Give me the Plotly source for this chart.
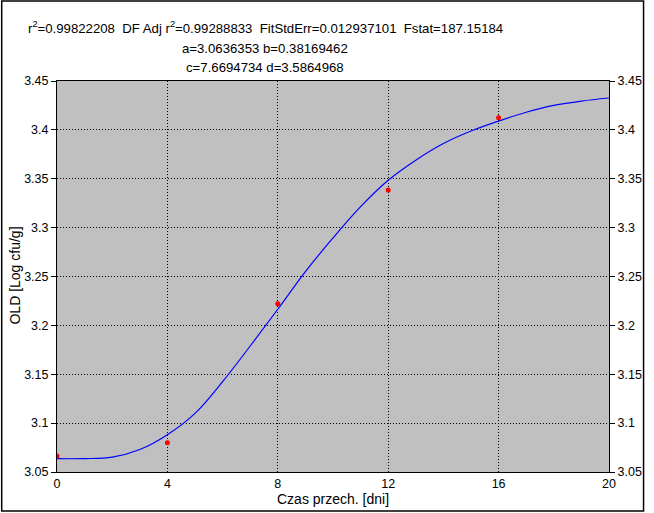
import plotly.graph_objects as go

# measured data points
x_data = [0, 4, 8, 12, 16]
y_data = [3.0664, 3.0800, 3.2222, 3.3385, 3.4125]

# fitted curve
x_fit = [0, 1, 2, 3, 4, 5, 6, 7, 8, 9, 10, 11, 12, 13, 14, 15, 16, 17, 18, 19, 20]
y_fit = [3.0636, 3.0637, 3.0652, 3.0730, 3.0882, 3.1100, 3.1424, 3.1789, 3.2165,
         3.2550, 3.2895, 3.3215, 3.3485, 3.3690, 3.3860, 3.3988, 3.4090, 3.4180,
         3.4250, 3.4295, 3.4326]

x_ticks = [0, 4, 8, 12, 16, 20]
y_ticks = [3.05, 3.1, 3.15, 3.2, 3.25, 3.3, 3.35, 3.4, 3.45]
y_ticktext = ["3.05", "3.1", "3.15", "3.2", "3.25", "3.3", "3.35", "3.4", "3.45"]

title_lines = [
    "r<sup>2</sup>=0.99822208  DF Adj r<sup>2</sup>=0.99288833  FitStdErr=0.012937101  Fstat=187.15184",
    "a=3.0636353 b=0.38169462",
    "c=7.6694734 d=3.5864968",
]
x_title = "Czas przech. [dni]"
y_title = "OLD [Log cfu/g]"

FONT = "Liberation Sans, Arial, sans-serif"
W, H = 654, 513
L, R, T, B = 57, 616, 81, 472

def px_x(p):
    return (p - L) / (R - L)

def px_y(p):
    return (B - p) / (B - T)

fig = go.Figure()
fig.add_trace(go.Scatter(x=x_fit, y=y_fit, mode="lines",
                         line=dict(color="#0000FF", width=1.2, shape="spline", smoothing=1.0),
                         hoverinfo="skip", showlegend=False))
fig.add_trace(go.Scatter(x=x_data, y=y_data, mode="markers",
                         marker=dict(color="#FF0000", size=5, symbol="circle"),
                         showlegend=False))
# invisible trace to activate right axis
fig.add_trace(go.Scatter(x=[x_ticks[0]], y=[y_ticks[0]], yaxis="y2", mode="markers",
                         marker=dict(opacity=0), hoverinfo="skip", showlegend=False))

axis_common = dict(showline=True, linecolor="black", linewidth=1, zeroline=False,
                   tickfont=dict(family=FONT, size=12.5, color="black"))

fig.update_layout(
    width=W, height=H,
    margin=dict(l=L, r=W - R, t=T, b=H - B, pad=0),
    paper_bgcolor="white",
    plot_bgcolor="#C0C0C0",
    font=dict(family=FONT, color="black"),
    showlegend=False,
    xaxis=dict(range=[0, 20], tickvals=x_ticks, ticks="", mirror=True,
               showgrid=True, gridcolor="black", gridwidth=1, griddash="1px,2px",
               **axis_common),
    yaxis=dict(range=[3.05, 3.45], tickvals=y_ticks, ticktext=y_ticktext,
               ticks="outside", ticklen=5, tickcolor="black", mirror=True,
               showgrid=True, gridcolor="black", gridwidth=1, griddash="1px,2px",
               **axis_common),
    yaxis2=dict(range=[3.05, 3.45], tickvals=y_ticks, ticktext=y_ticktext,
                overlaying="y", side="right", ticks="outside", ticklen=5,
                tickcolor="black", showgrid=False, **axis_common),
)

# title lines
ys = [27, 48, 67]
for txt, yp in zip(title_lines, ys):
    fig.add_annotation(text=txt, xref="paper", yref="paper", x=px_x(268), y=px_y(yp),
                       xanchor="center", yanchor="middle", showarrow=False,
                       font=dict(family=FONT, size=13.2, color="black"))

fig.add_annotation(text=x_title, xref="paper", yref="paper", x=px_x(336), y=px_y(499),
                   xanchor="center", yanchor="middle", showarrow=False,
                   font=dict(family=FONT, size=14, color="black"))
fig.add_annotation(text=y_title, xref="paper", yref="paper", x=px_x(14), y=px_y(276),
                   xanchor="center", yanchor="middle", showarrow=False, textangle=-90,
                   font=dict(family=FONT, size=14, color="black"))

# outer frame
fig.add_shape(type="rect", xref="paper", yref="paper",
              x0=px_x(1), x1=px_x(651), y0=px_y(511), y1=px_y(1),
              line=dict(color="black", width=1.5), layer="below")

fig.write_html("out.html", config={"displayModeBar": False},
               post_script="document.body.style.margin='0';document.body.style.overflow='hidden';")
